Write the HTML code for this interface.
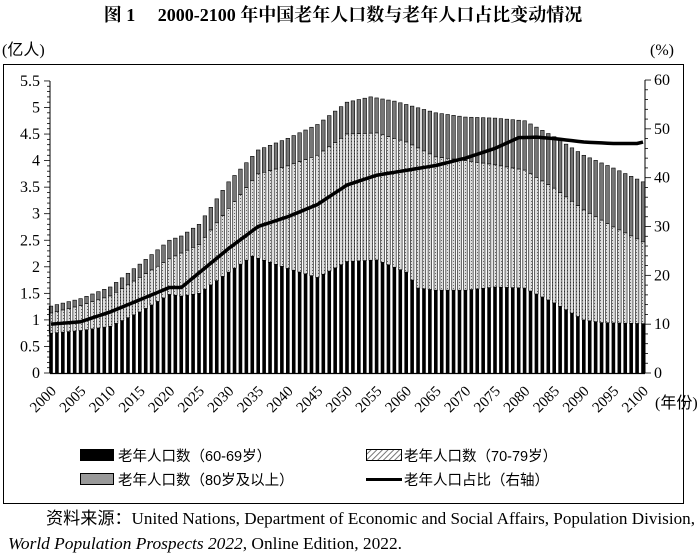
<!DOCTYPE html>
<html><head><meta charset="utf-8"><style>
body{margin:0;background:#fff;width:700px;height:553px;overflow:hidden;font-family:"Liberation Serif","Noto Serif CJK SC",serif;}
</style></head><body>
<svg id="s" width="700" height="553" xmlns="http://www.w3.org/2000/svg" style="position:absolute;left:0;top:0">
<defs>
<pattern id="h" width="3" height="3" patternUnits="userSpaceOnUse"><rect width="3" height="3" fill="#ddd"/><rect width="1" height="1" fill="#666"/></pattern>
<pattern id="d" width="4" height="4" patternUnits="userSpaceOnUse" patternTransform="rotate(45)"><rect width="4" height="4" fill="#fff"/><rect width="1" height="4" fill="#777"/></pattern>
</defs>
<text x="343" y="21" text-anchor="middle" font-size="18" font-weight="bold" font-family="Liberation Serif,Noto Serif CJK SC,serif">图 1　 2000-2100 年中国老年人口数与老年人口占比变动情况</text>
<text x="2" y="55" font-size="16" font-family="Liberation Serif,Noto Sans CJK SC,sans-serif">(亿人)</text>
<text x="650" y="55" font-size="16">(%)</text>
<rect x="3.5" y="64.5" width="680" height="439" fill="none" stroke="#000" stroke-width="1"/>
<g id="g"></g>
<text x="655" y="408" font-size="16" font-family="Liberation Serif,Noto Sans CJK SC,sans-serif">(年份)</text>
<g font-family="Liberation Sans,Noto Sans CJK SC,sans-serif" font-size="14.5">
<rect x="80" y="449" width="34" height="12" fill="#000"/>
<text x="118" y="461">老年人口数（60-69岁）</text>
<rect x="366.5" y="449.5" width="35" height="11" fill="url(#d)" stroke="#000"/>
<text x="404" y="461">老年人口数（70-79岁）</text>
<rect x="80.5" y="473.5" width="33" height="11" fill="#999" stroke="#000"/>
<text x="118" y="485">老年人口数（80岁及以上）</text>
<rect x="366" y="478" width="36" height="3" fill="#000"/>
<text x="404" y="485">老年人口占比（右轴）</text>
</g>
<text x="46" y="524" font-size="17" font-family="Liberation Serif,Noto Sans CJK SC,serif" textLength="649" lengthAdjust="spacingAndGlyphs"><tspan font-family="Noto Sans CJK SC,sans-serif">资料来源：</tspan>United Nations, Department of Economic and Social Affairs, Population Division,</text>
<text x="8" y="549" font-size="17" textLength="394" lengthAdjust="spacingAndGlyphs"><tspan font-style="italic">World Population Prospects 2022</tspan>, Online Edition, 2022.</text>
</svg>
<script>
function interp(k,y){var ks=Object.keys(k).map(Number).sort((a,b)=>a-b);for(var i=0;i<ks.length-1;i++){if(y>=ks[i]&&y<=ks[i+1]){var t=(y-ks[i])/(ks[i+1]-ks[i]);return k[ks[i]]+t*(k[ks[i+1]]-k[ks[i]]);}}return k[ks[ks.length-1]];}
var tot={2000:1.26,2005:1.4,2010:1.62,2015:2.05,2020:2.5,2022:2.58,2025:2.8,2030:3.6,2035:4.2,2040:4.42,2045:4.68,2050:5.1,2054:5.2,2058:5.12,2065:4.9,2070:4.82,2075:4.8,2080:4.75,2085:4.45,2090:4.1,2095:3.86,2100:3.6};
var blk={2000:0.75,2005:0.8,2010:0.88,2015:1.15,2020:1.48,2022:1.45,2025:1.5,2030:1.9,2034:2.2,2040:1.97,2045:1.8,2050:2.1,2055:2.13,2060:1.9,2062:1.6,2065:1.56,2070:1.56,2075:1.62,2080:1.6,2085:1.32,2090:1.0,2093:0.95,2100:0.93};
var hat={2000:1.13,2005:1.27,2010:1.45,2015:1.8,2020:2.15,2025:2.42,2030:3.1,2035:3.75,2040:3.9,2045:4.1,2050:4.5,2055:4.52,2060:4.35,2065:4.07,2070:4.0,2075:3.92,2080:3.82,2085:3.48,2090:3.07,2095:2.75,2100:2.47};
var pct={2000:10,2005:10.5,2010:12.5,2015:15,2020:17.5,2022:17.5,2025:20.5,2030:25.5,2035:30,2040:32,2045:34.5,2050:38.5,2055:40.5,2060:41.5,2065:42.5,2070:44,2075:46,2079:48.2,2082:48.3,2085:48,2090:47.3,2095:47,2099:47,2100:47.3};
var Y0=373,U=53.1,X0=51,P=5.92,h='';
for(var yr=2000;yr<=2100;yr++){var x=X0+(yr-2000)*P-1.8,t=interp(tot,yr),b=interp(blk,yr),m=Math.min(interp(hat,yr),t-0.05);
h+='<rect x="'+x+'" y="'+(Y0-t*U)+'" width="3.6" height="'+((t-m)*U)+'" fill="#777" stroke="#000" stroke-width="0.6"/>';
h+='<rect x="'+x+'" y="'+(Y0-m*U)+'" width="3.6" height="'+((m-b)*U)+'" fill="url(#h)" stroke="#000" stroke-width="0.6"/>';
h+='<rect x="'+x+'" y="'+(Y0-b*U)+'" width="3.6" height="'+(b*U)+'" fill="#000"/>';}
var pts=[];for(var yr=2000;yr<=2100;yr++)pts.push((X0+(yr-2000)*P)+','+(Y0-interp(pct,yr)*4.883));
h+='<polyline points="'+pts.join(' ')+'" fill="none" stroke="#000" stroke-width="3.5"/>';
h+='<line x1="50" y1="81" x2="50" y2="373.5" stroke="#000"/><line x1="645" y1="80" x2="645" y2="373.5" stroke="#000"/><line x1="50" y1="373.5" x2="645" y2="373.5" stroke="#000" stroke-width="1.2"/>';
for(var v=0;v<=55;v++){var yy=Y0-v*0.1*U;h+='<line x1="'+(v%5==0?44:47)+'" y1="'+yy+'" x2="50" y2="'+yy+'" stroke="#000" stroke-width="0.8"/>';
if(v%5==0)h+='<text x="40" y="'+(yy+5)+'" text-anchor="end" font-size="16">'+(v/10)+'</text>';}
for(var v=0;v<=60;v+=2){var yy=Y0-v*4.883;h+='<line x1="645" y1="'+yy+'" x2="'+(v%10==0?651:648)+'" y2="'+yy+'" stroke="#000" stroke-width="0.8"/>';
if(v%10==0)h+='<text x="654" y="'+(yy+5)+'" font-size="16">'+v+'</text>';}
for(var yr=2000;yr<=2100;yr+=5){var x=X0+(yr-2000)*P+6;h+='<text transform="translate('+x+',392) rotate(-45)" text-anchor="end" font-size="15">'+yr+'</text>';}
document.getElementById('g').innerHTML=h;
</script>
</body></html>
